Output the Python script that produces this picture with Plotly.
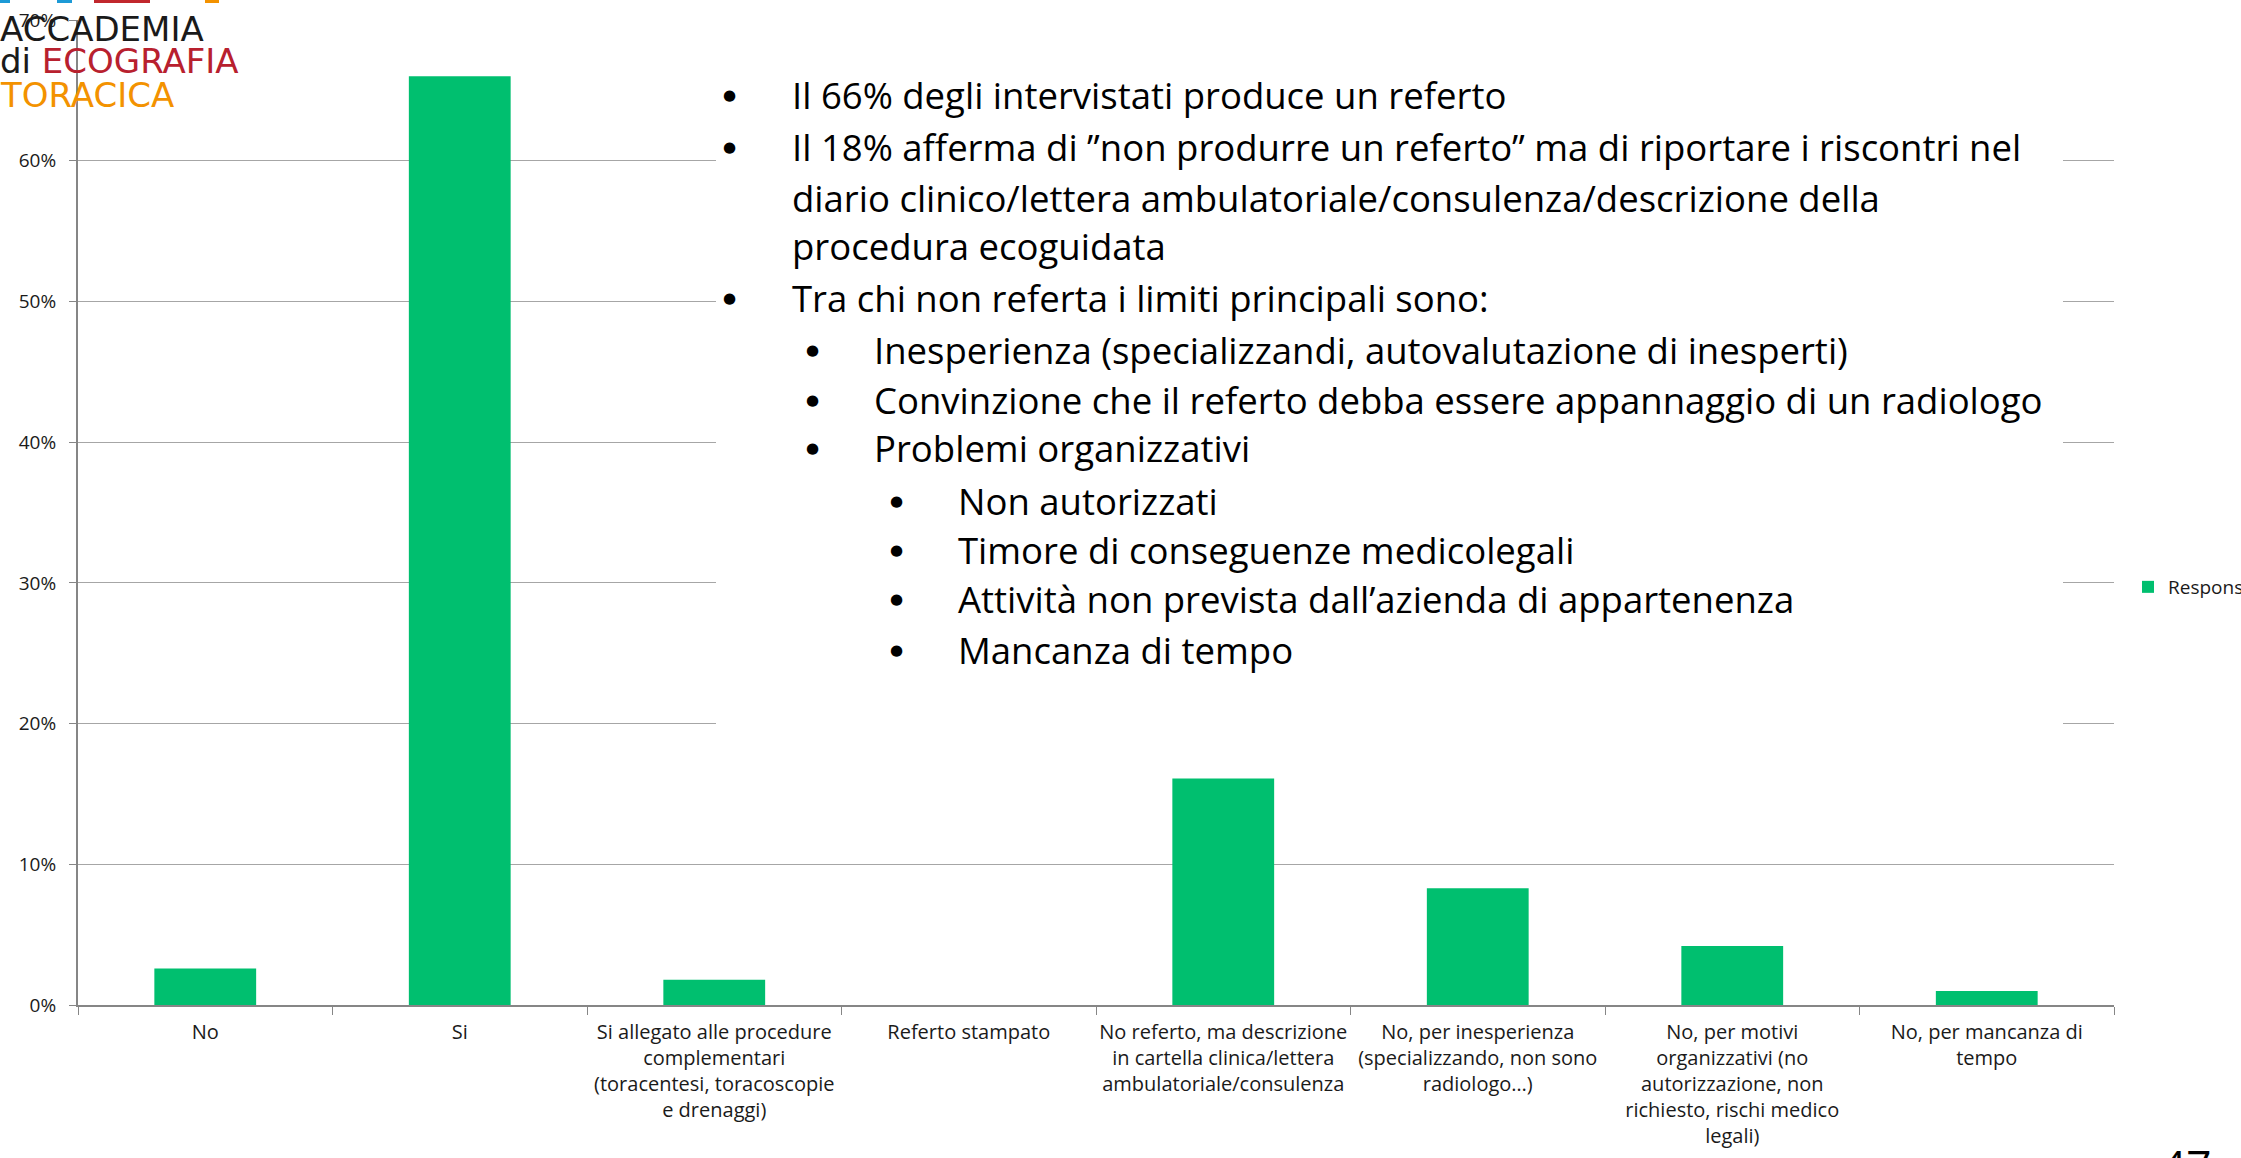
"""
Referto ecografico toracico - risposte al questionario
Bar chart with the slide's text box, logo and legend
"""
import plotly.graph_objects as go

# data
categories = [
    "No",
    "Si",
    "Si allegato alle procedure complementari",
    "Referto stampato",
    "No referto, ma descrizione",
    "No, per inesperienza",
    "No, per motivi organizzativi",
    "No, per mancanza di tempo",
]
tick_labels = [
    "No",
    "Si",
    "Si allegato alle procedure<br>complementari<br>(toracentesi, toracoscopie<br>e drenaggi)",
    "Referto stampato",
    "No referto, ma descrizione<br>in cartella clinica/lettera<br>ambulatoriale/consulenza",
    "No, per inesperienza<br>(specializzando, non sono<br>radiologo…)",
    "No, per motivi<br>organizzativi (no<br>autorizzazione, non<br>richiesto, rischi medico<br>legali)",
    "No, per mancanza di<br>tempo",
]
responses = [0.026, 0.660, 0.018, 0.0, 0.161, 0.083, 0.042, 0.010]

y_ticks = [0.0, 0.1, 0.2, 0.3, 0.4, 0.5, 0.6, 0.7]

bullets = [
    (1, "Il 66% degli intervistati produce un referto", True),
    (1, "Il 18% afferma di ”non produrre un referto” ma di riportare i riscontri nel", True),
    (1, "diario clinico/lettera ambulatoriale/consulenza/descrizione della", False),
    (1, "procedura ecoguidata", False),
    (1, "Tra chi non referta i limiti principali sono:", True),
    (2, "Inesperienza (specializzandi, autovalutazione di inesperti)", True),
    (2, "Convinzione che il referto debba essere appannaggio di un radiologo", True),
    (2, "Problemi organizzativi", True),
    (3, "Non autorizzati", True),
    (3, "Timore di conseguenze medicolegali", True),
    (3, "Attività non prevista dall’azienda di appartenenza", True),
    (3, "Mancanza di tempo", True),
]
bullet_rows = [95, 147, 198, 246, 298, 350, 400, 448, 501, 550, 599, 650]

W, H = 2241, 1158
L, R, T, B = 78, 2114, 20, 1005
GREEN = "#00BF6F"
FONT = "'Open Sans', Lato, sans-serif"


def px(x):
    return (x - L) / (R - L)


def py(y):
    return (B - y) / (B - T)


fig = go.Figure(go.Bar(
    x=categories,
    y=responses,
    name="Responses",
    marker=dict(color=GREEN, line=dict(width=0)),
    width=0.4,
    hovertemplate="%{x}: %{y:.1%}<extra></extra>",
))

fig.update_xaxes(
    tickmode="array",
    tickvals=categories,
    ticktext=tick_labels,
    tickangle=0,
    ticks="outside",
    tickson="boundaries",
    ticklen=8,
    tickcolor="#868686",
    showline=True,
    linecolor="#868686",
    linewidth=2,
    showgrid=False,
    ticklabelstandoff=8,
    tickfont=dict(family=FONT, size=20, color="#1a1a1a"),
)
fig.update_yaxes(
    range=[0, 0.7],
    tickmode="array",
    tickvals=y_ticks,
    tickformat=".0%",
    ticks="outside",
    ticklen=7,
    tickcolor="#868686",
    showline=True,
    linecolor="#868686",
    linewidth=2,
    showgrid=True,
    gridcolor="#a6a6a6",
    gridwidth=1,
    zeroline=False,
    ticklabelstandoff=9,
    tickfont=dict(family=FONT, size=19, color="#1a1a1a"),
)

shapes = [
    # white text box of the slide, sits over the gridlines
    dict(type="rect", xref="paper", yref="paper",
         x0=px(716), x1=px(2063), y0=py(765), y1=py(42),
         fillcolor="white", line=dict(width=0), layer="above"),
]
# coloured strips at the top of the logo (cut off by the slide)
for x0, x1, col in [(0, 10, "#1d9ad6"), (57, 72, "#1d9ad6"),
                    (94, 150, "#c1272d"), (205, 219, "#f39200")]:
    shapes.append(dict(type="rect", xref="paper", yref="paper",
                       x0=px(x0), x1=px(x1), y0=py(3), y1=py(0),
                       fillcolor=col, line=dict(width=0), layer="above"))

annotations = []
indent = {1: (729, 790), 2: (812, 872), 3: (896, 956)}
for (level, text, has_bullet), row in zip(bullets, bullet_rows):
    bx, tx = indent[level]
    if has_bullet:
        annotations.append(dict(
            xref="paper", yref="paper", x=px(bx), y=py(row),
            xanchor="center", yanchor="middle", showarrow=False,
            text="●", font=dict(family="'DejaVu Sans'", size=15, color="#000000")))
    annotations.append(dict(
        xref="paper", yref="paper", x=px(tx), y=py(row),
        xanchor="left", yanchor="middle", showarrow=False,
        text=text, font=dict(family=FONT, size=36.5, color="#000000")))

# logo in the top left corner
LOGO = "'DejaVu Sans', 'Noto Sans', sans-serif"
annotations += [
    dict(xref="paper", yref="paper", x=px(-2), y=py(29), xanchor="left",
         yanchor="middle", showarrow=False, text="ACCADEMIA",
         font=dict(family=LOGO, size=34, color="#1a1a1a")),
    dict(xref="paper", yref="paper", x=px(-2), y=py(61), xanchor="left",
         yanchor="middle", showarrow=False,
         text="di <span style='color:#b8202e'>ECOGRAFIA</span>",
         font=dict(family=LOGO, size=34, color="#1a1a1a")),
    dict(xref="paper", yref="paper", x=px(-2), y=py(95), xanchor="left",
         yanchor="middle", showarrow=False, text="TORACICA",
         font=dict(family=LOGO, size=34, color="#f39200")),
    # slide number, mostly below the visible area
    dict(xref="paper", yref="paper", x=px(2159), y=py(1133), xanchor="left",
         yanchor="top", showarrow=False, text="47",
         font=dict(family=FONT, size=44, color="#000000")),
]

fig.update_layout(
    width=W,
    height=H,
    margin=dict(l=L, r=W - R, t=T, b=H - B, pad=0, autoexpand=False),
    paper_bgcolor="white",
    plot_bgcolor="white",
    bargap=0.6,
    showlegend=True,
    legend=dict(x=px(2128), y=py(587), xanchor="left", yanchor="middle",
                font=dict(family=FONT, size=19, color="#1a1a1a"),
                bgcolor="rgba(0,0,0,0)"),
    shapes=shapes,
    annotations=annotations,
    font=dict(family=FONT),
)

# page margin of the browser would shift the whole slide
fig.write_html("out.html", config={"displayModeBar": False},
               post_script="document.body.style.margin='0px';")
